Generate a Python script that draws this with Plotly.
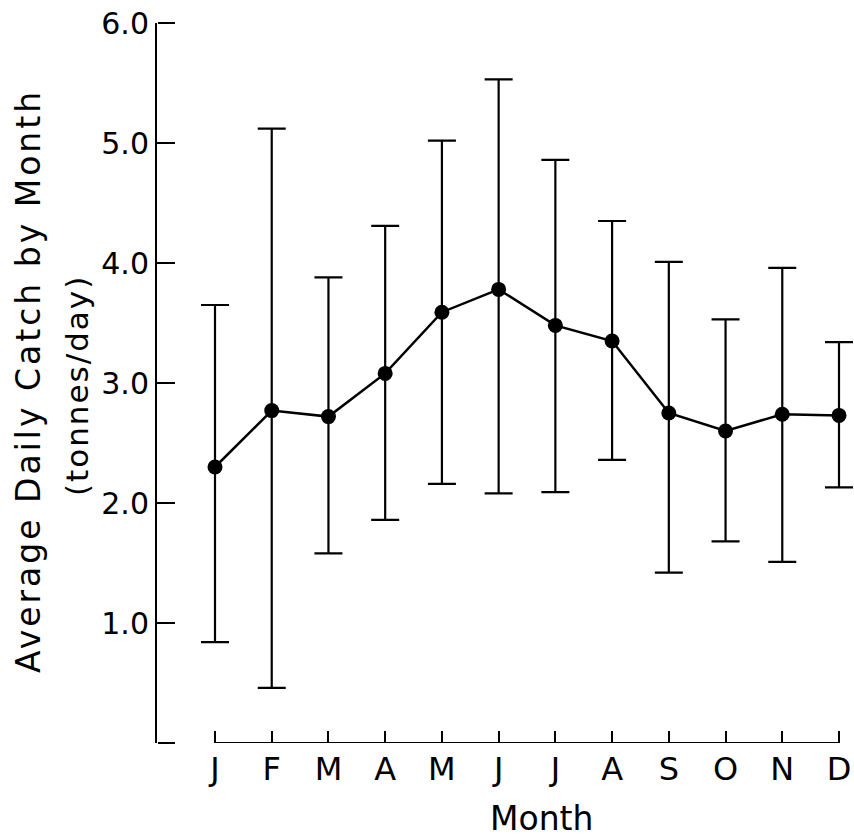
import plotly.graph_objects as go

months = ["J", "F", "M", "A", "M", "J", "J", "A", "S", "O", "N", "D"]
mean_catch = [2.30, 2.77, 2.72, 3.08, 3.59, 3.78, 3.48, 3.35, 2.75, 2.60, 2.74, 2.73]
upper = [3.65, 5.12, 3.88, 4.31, 5.02, 5.53, 4.86, 4.35, 4.01, 3.53, 3.96, 3.34]
lower = [0.84, 0.46, 1.58, 1.86, 2.16, 2.08, 2.09, 2.36, 1.42, 1.68, 1.51, 2.13]
y_ticks = [0, 1, 2, 3, 4, 5, 6]
y_ticktext = ["", "1.0", "2.0", "3.0", "4.0", "5.0", "6.0"]

FONT = "DejaVu Sans"
x_idx = list(range(len(months)))
plus = [u - m for u, m in zip(upper, mean_catch)]
minus = [m - l for m, l in zip(mean_catch, lower)]

W, H = 854, 840
L, R, T, B = 157, 0, 23, 97
pw = W - L - R
ph = H - T - B
xJ, xD = 215, 839          # pixel positions of first / last month
step = (xD - xJ) / 11
y_range = [0, 6]

fig = go.Figure()
fig.add_trace(go.Scatter(
    x=x_idx, y=mean_catch, mode="lines+markers",
    line=dict(color="black", width=2.5),
    marker=dict(color="black", size=15),
    error_y=dict(type="data", symmetric=False, array=plus, arrayminus=minus,
                 color="black", thickness=2.2, width=14),
    cliponaxis=False, showlegend=False,
))
# invisible trace for the overlay axis carrying the inward y ticks
fig.add_trace(go.Scatter(
    x=x_idx, y=mean_catch, mode="markers", marker=dict(opacity=0),
    hoverinfo="skip", showlegend=False, yaxis="y2",
))
# month axis line runs from the first to the last month only
fig.add_shape(
    type="line", xref="x", yref="y",
    x0=x_idx[0], x1=x_idx[-1], y0=0, y1=0,
    line=dict(color="black", width=2),
)

fig.update_layout(
    template="none",
    width=W, height=H, autosize=False,
    margin=dict(l=L, r=R, t=T, b=B, pad=0),
    paper_bgcolor="white", plot_bgcolor="rgba(0,0,0,0)",
    font=dict(family=FONT, color="black"),
    xaxis=dict(
        domain=[0, 1], automargin=False,
        range=[-(xJ - L) / step, 11 + (W - R - xD) / step],
        tickmode="array", tickvals=x_idx, ticktext=months,
        ticks="inside", ticklen=12, tickwidth=2, tickcolor="black",
        showline=False, showgrid=False, zeroline=False,
        tickfont=dict(size=32, family=FONT, color="black"),
        ticklabelstandoff=4,
    ),
    yaxis=dict(
        range=y_range, automargin=False,
        tickmode="array", tickvals=y_ticks, ticktext=y_ticktext,
        ticks="inside", ticklen=17, tickwidth=2, tickcolor="black",
        showline=True, linewidth=2, linecolor="black",
        showgrid=False, zeroline=False,
        tickfont=dict(size=30, family=FONT, color="black"),
    ),
    yaxis2=dict(
        overlaying="y", side="right", anchor="free", position=0,
        range=y_range, automargin=False,
        tickmode="array", tickvals=y_ticks,
        ticks="outside", ticklen=17, tickwidth=2, tickcolor="black",
        showticklabels=False, showline=False, showgrid=False, zeroline=False,
    ),
)

fig.add_annotation(
    text='<span style="letter-spacing:3px">Average Daily Catch by Month</span>',
    textangle=-90, xref="paper", yref="paper",
    x=(28 - L) / pw, y=(H - B - 381) / ph, xanchor="center", yanchor="middle",
    showarrow=False, font=dict(size=33, family=FONT, color="black"),
)
fig.add_annotation(
    text='<span style="letter-spacing:2px">(tonnes/day)</span>',
    textangle=-90, xref="paper", yref="paper",
    x=(77 - L) / pw, y=(H - B - 386) / ph, xanchor="center", yanchor="middle",
    showarrow=False, font=dict(size=31, family=FONT, color="black"),
)
fig.add_annotation(
    text="Month", xref="paper", yref="paper",
    x=(541 - L) / pw, y=(H - B - 818) / ph, xanchor="center", yanchor="middle",
    showarrow=False, font=dict(size=33, family=FONT, color="black"),
)

fig.write_html(
    "out.html",
    config={"displayModeBar": False},
    post_script="document.body.style.margin='0px';document.body.style.overflow='hidden';",
)
